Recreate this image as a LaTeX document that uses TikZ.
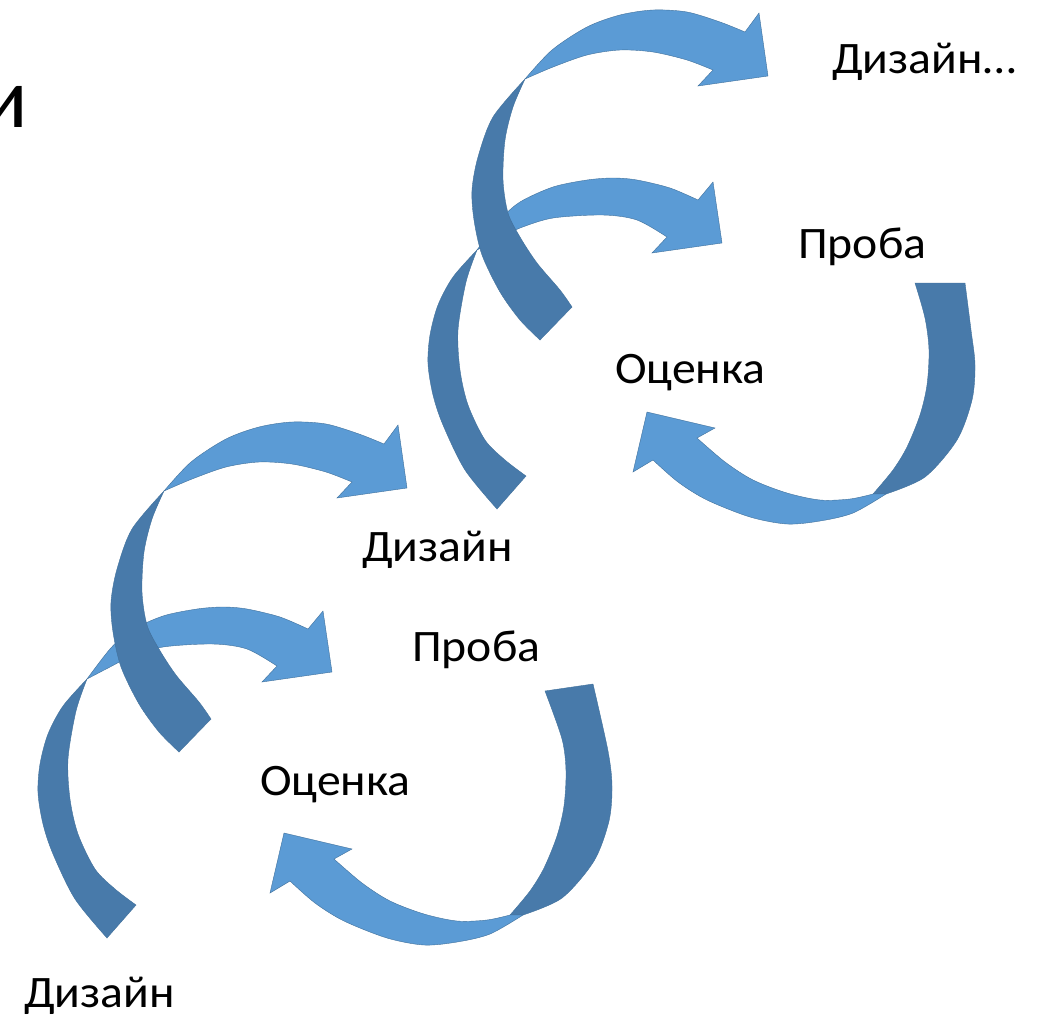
\documentclass[tikz,border=0pt]{standalone}
\usepackage{fontspec}
\setmainfont{Carlito}
\newfontfamily\stagefont[FakeStretch=1.06]{Carlito}
\usepackage{color}
\definecolor{facelight}{HTML}{5B9BD5}
\definecolor{facedark}{HTML}{487AAA}
\definecolor{faceedge}{HTML}{41719C}

\begin{document}
\begin{tikzpicture}[
      x=1pt, y=-1pt,
      frontface/.style={
         fill=facelight,
         draw=faceedge,
         line width=0.4pt
      },
      backface/.style={
         fill=facedark,
         draw=faceedge,
         line width=0.4pt
      },
      stage/.style={
         anchor=base west,
         inner sep=0pt,
         font=\stagefont\fontsize{45}{54}\selectfont
      },
      heading/.style={
         anchor=base east,
         inner sep=0pt,
         font=\fontsize{86}{90}\selectfont
      }
    ]
    \path[use as bounding box, fill=white] (0,0) rectangle (1043,1017);

    % inner ribbon (Design -> Trial), lies behind the outer one
    \foreach \dx/\dy in {0/0,-390/429} {
      \begin{scope}[shift={(\dx,\dy)}]
        \path[backface] plot[smooth] coordinates {(477,250) (453,277) (438,305) (430,335) (428,364) (433,395) (443,425) (465,470) (497,509)}
          -- (526,476)
          -- plot[smooth] coordinates {(526,476) (505,460) (485,440) (468,405) (460,370) (458,330) (466,282) (477,250)} -- cycle;
        \path[frontface] plot[smooth] coordinates {(477,250) (500,220) (520,202) (553,187) (587,180) (613,178) (637,180) (670,188) (698,200)}
          -- (713,182) -- (722,243) -- (652,253)
          -- plot[smooth] coordinates {(667,237) (637,220) (603,215) (553,218) (520,228) (500,238) (477,250)} -- cycle;
      \end{scope}
    }

    % outer ribbon (Evaluation -> next Design)
    \foreach \dx/\dy in {0/0,-361/412} {
      \begin{scope}[shift={(\dx,\dy)}]
        \path[backface] plot[smooth] coordinates {(525,79) (493,117) (478,157) (472,190) (474,220) (482,255) (500,292) (520,320) (540,340)}
          -- (572,307)
          -- plot[smooth] coordinates {(572,307) (560,290) (537,263) (520,237) (508,213) (503,180) (505,140) (513,107) (525,79)} -- cycle;
        \path[frontface] plot[smooth] coordinates {(525,79) (552,50) (587,27) (620,15) (653,10) (687,12) (720,22) (745,32)}
          -- (759,13) -- (768,76) -- (698,86)
          -- plot[smooth] coordinates {(713,70) (687,60) (653,52) (620,50) (587,55) (553,67) (525,79)} -- cycle;
      \end{scope}
    }

    % right ribbon (Trial -> Evaluation)
    \foreach \dx/\dy/\ix/\iy/\ox/\oy in {0/0/915/283/965/283,-363/421/908/270/956/263} {
      \begin{scope}[shift={(\dx,\dy)}]
        \path[backface] plot[smooth] coordinates {(\ox,\oy) (971,330) (975,365) (972,400) (957,440) (925,477) (886,494)}
          -- (873,494)
          -- plot[smooth] coordinates {(873,494) (893,470) (907,447) (920,415) (927,385) (929,350) (925,318) (\ix,\iy)} -- cycle;
        \path[frontface] plot[smooth] coordinates {(886,494) (853,513) (820,521) (787,524) (750,517) (707,500) (678,482) (653,460)}
          -- (633,472) -- (647,412) -- (715,428)
          -- plot[smooth] coordinates {(697,438) (725,462) (753,480) (787,493) (820,500) (850,499) (873,494)} -- cycle;
      \end{scope}
    }

    \node[heading] (letter) at (28,127) {и};
    \node[stage] (designA) at (832,73) {Дизайн…};
    \node[stage] (trialA) at (798,258) {Проба};
    \node[stage] (evalA) at (615,383) {Оценка};
    \node[stage] (designB) at (362,561) {Дизайн};
    \node[stage] (trialB) at (412,661) {Проба};
    \node[stage] (evalB) at (260,795) {Оценка};
    \node[stage] (designC) at (24,1007) {Дизайн};
\end{tikzpicture}
\end{document}
